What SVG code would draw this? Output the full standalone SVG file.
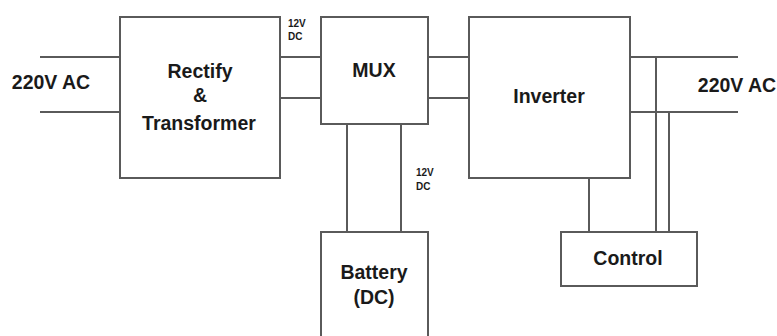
<svg xmlns="http://www.w3.org/2000/svg" width="777" height="336" viewBox="0 0 777 336">
<style>
.box{fill:#fff;stroke:#5a5a5a;stroke-width:2}
.wire{fill:none;stroke:#5a5a5a;stroke-width:2}
.lbl{font-family:"Liberation Sans",Arial,sans-serif;font-weight:bold;font-size:19.5px;fill:#1a1a1a;text-anchor:middle}
.sm{font-family:"Liberation Sans",Arial,sans-serif;font-weight:bold;font-size:10px;fill:#1a1a1a}
</style>
<rect width="777" height="336" fill="#fff"/>
<g id="connectors">
<line class="wire" x1="40" y1="57" x2="120" y2="57"/>
<line class="wire" x1="40" y1="112" x2="120" y2="112"/>
<line class="wire" x1="280" y1="57" x2="321" y2="57"/>
<line class="wire" x1="280" y1="98" x2="321" y2="98"/>
<line class="wire" x1="428" y1="57" x2="469" y2="57"/>
<line class="wire" x1="428" y1="98" x2="469" y2="98"/>
<line class="wire" x1="347" y1="124" x2="347" y2="232"/>
<line class="wire" x1="401" y1="124" x2="401" y2="232"/>
<line class="wire" x1="630" y1="57" x2="738" y2="57"/>
<line class="wire" x1="630" y1="112" x2="738" y2="112"/>
<line class="wire" x1="656" y1="57" x2="656" y2="232"/>
<line class="wire" x1="669" y1="112" x2="669" y2="232"/>
<line class="wire" x1="589" y1="178" x2="589" y2="232"/>
</g>
<g id="rectify">
<rect class="box" x="120" y="17" width="160" height="161"/>
<text class="lbl" x="200" y="78">Rectify</text>
<text class="lbl" x="200" y="102">&amp;</text>
<text class="lbl" x="199" y="130">Transformer</text>
</g>
<g id="mux">
<rect class="box" x="321" y="17" width="107" height="107"/>
<text class="lbl" x="374" y="77">MUX</text>
</g>
<g id="inverter">
<rect class="box" x="469" y="17" width="161" height="161"/>
<text class="lbl" x="549" y="103">Inverter</text>
</g>
<g id="battery">
<rect class="box" x="321" y="232" width="107" height="110"/>
<text class="lbl" x="374" y="279">Battery</text>
<text class="lbl" x="374" y="304">(DC)</text>
</g>
<g id="control">
<rect class="box" x="561" y="232" width="136" height="54"/>
<text class="lbl" x="628" y="265">Control</text>
</g>
<g id="labels">
<text class="lbl" x="51" y="89">220V AC</text>
<text class="lbl" x="737" y="92">220V AC</text>
<text class="sm" x="288" y="27">12V</text>
<text class="sm" x="288" y="40">DC</text>
<text class="sm" x="416" y="176">12V</text>
<text class="sm" x="416" y="190">DC</text>
</g>
</svg>
